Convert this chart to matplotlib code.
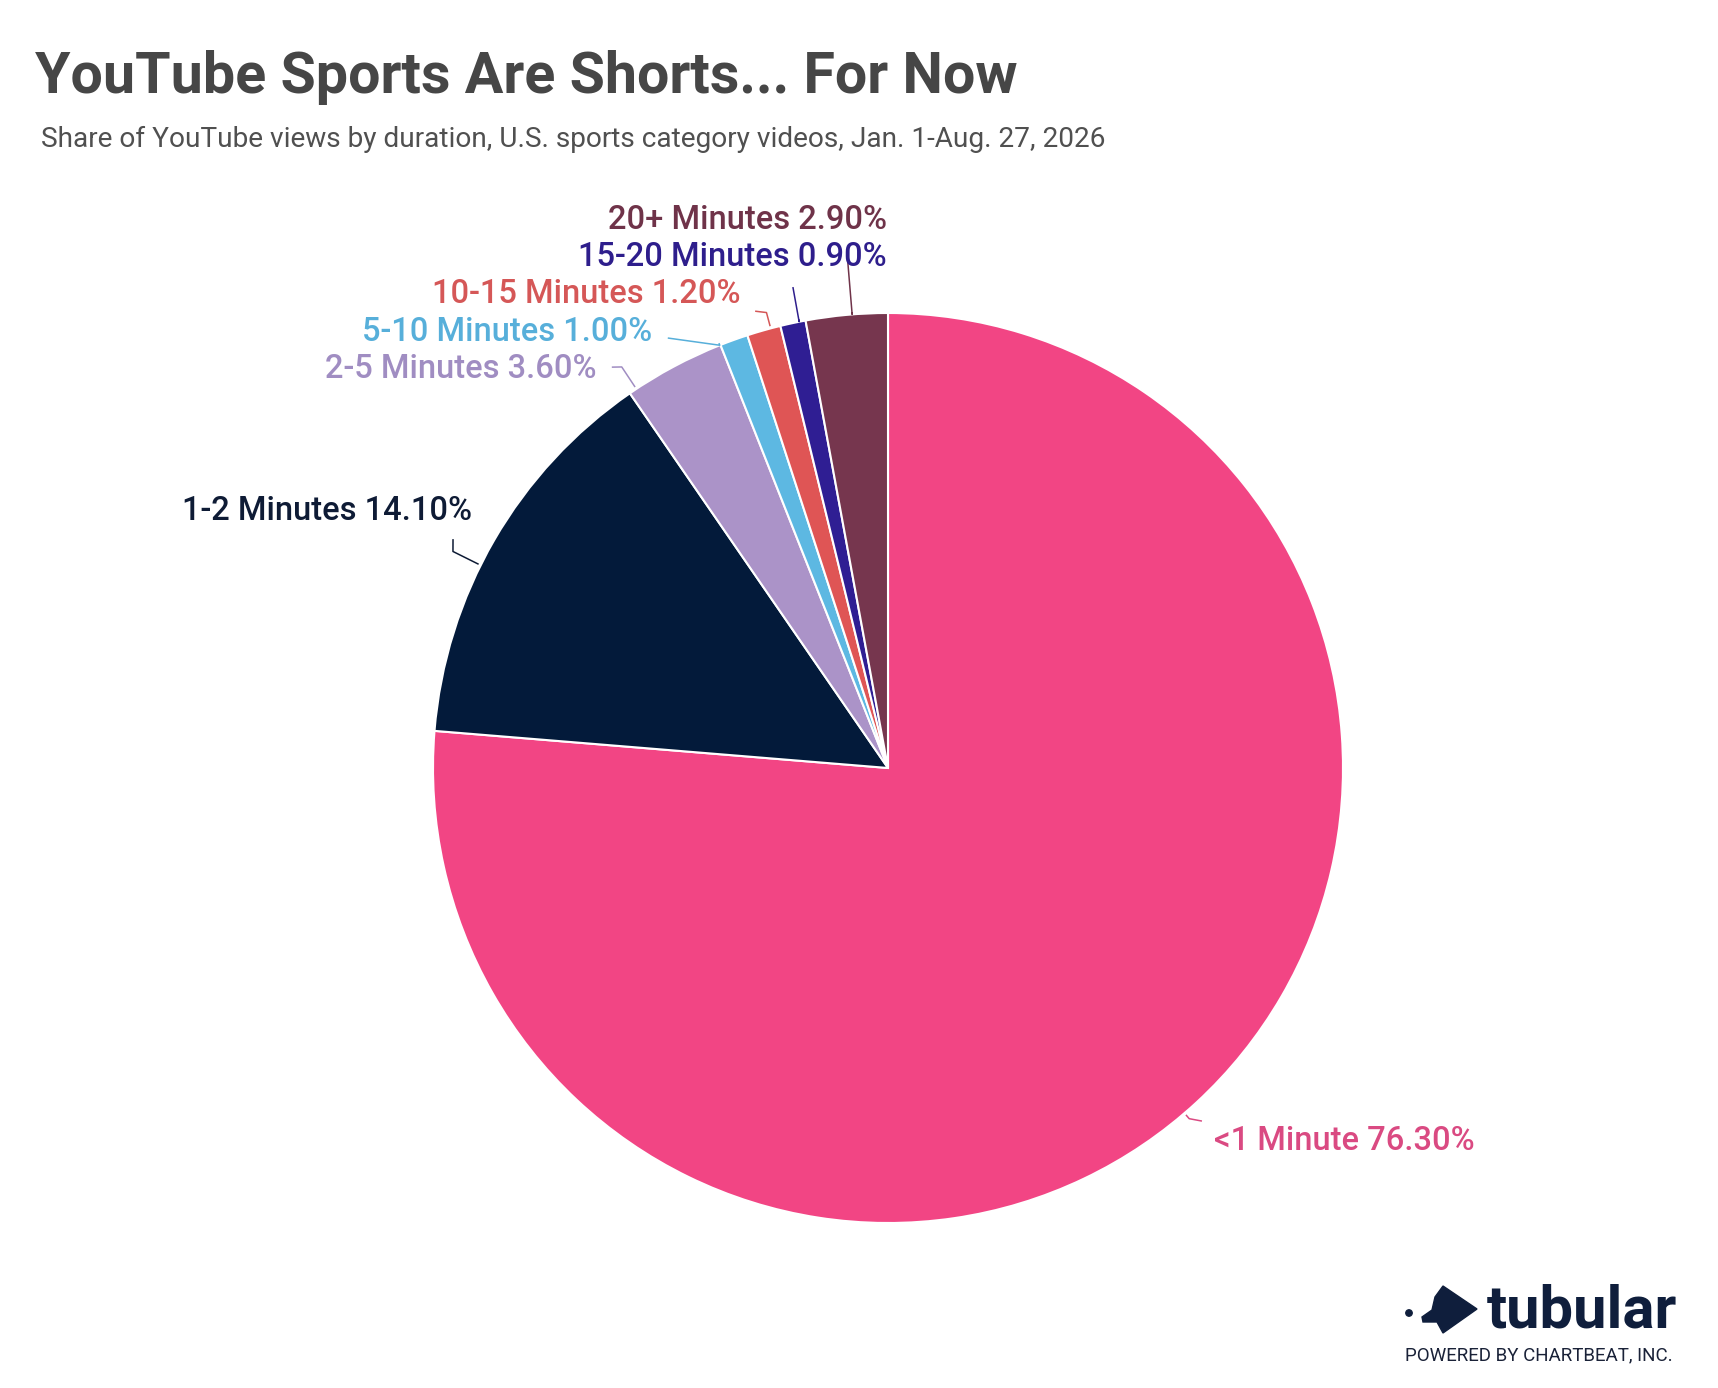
import numpy as np
import matplotlib.pyplot as plt
from matplotlib.patches import Polygon, Circle

plt.rcParams['font.family'] = ['Roboto', 'DejaVu Sans']

# data
categories = ['<1 Minute', '1-2 Minutes', '2-5 Minutes', '5-10 Minutes',
              '10-15 Minutes', '15-20 Minutes', '20+ Minutes']
shares = [76.3, 14.1, 3.6, 1.0, 1.2, 0.9, 2.9]
slice_colors = ['#F24584', '#031A3A', '#AB93C8', '#5DB8E2', '#DF5555', '#2F1E93', '#76364E']
label_colors = ['#DA4A82', '#0E1B35', '#A08DC2', '#57AFDA', '#D55757', '#2E1E8C', '#6F3349']

title = 'YouTube Sports Are Shorts... For Now'
subtitle = 'Share of YouTube views by duration, U.S. sports category videos, Jan. 1-Aug. 27, 2026'

# label layout (pie data units, radius = 1)
label_xy = [(0.716, -0.840), (-0.914, 0.545), (-0.640, 0.857), (-0.519, 0.938),
            (-0.325, 1.022), (-0.002, 1.103), (-0.002, 1.185)]
label_ha = ['left', 'right', 'right', 'right', 'right', 'right', 'right']
leader_nudge = [-2.0, 3.6, 5.5, 1.9, -0.9, -0.8, -0.7]   # degrees, math direction
leader_elbow = [1.016, 1.068, 1.058, 1.0, 1.036, 1.0, 1.0]
leader_end = [(0.690, -0.776), (-0.956, 0.503), (-0.607, 0.881), (-0.484, 0.945),
              (-0.292, 1.004), (-0.209, 1.057), (-0.090, 1.132)]

W, H = 1718, 1388
fig = plt.figure(figsize=(W / 100, H / 100), dpi=100)
fig.patch.set_facecolor('white')

# overlay for the logo, pixel coords
lax = fig.add_axes([0, 0, 1, 1])
lax.set_xlim(0, W)
lax.set_ylim(H, 0)
lax.axis('off')

cx, cy, R = 888, 768, 455
ax = fig.add_axes([(cx - R) / W, (H - cy - R) / H, 2 * R / W, 2 * R / H])
wedges, _ = ax.pie(shares, colors=slice_colors, startangle=90, counterclock=False,
                   radius=1, wedgeprops=dict(edgecolor='white', linewidth=1.5))
ax.set_xlim(-1, 1)
ax.set_ylim(-1, 1)
ax.set_aspect('equal')
ax.axis('off')

for i, w in enumerate(wedges):
    mid = np.radians((w.theta1 + w.theta2) / 2 + leader_nudge[i])
    p0 = (1.005 * np.cos(mid), 1.005 * np.sin(mid))
    p1 = (leader_elbow[i] * np.cos(mid), leader_elbow[i] * np.sin(mid))
    p2 = leader_end[i]
    ax.plot([p0[0], p1[0], p2[0]], [p0[1], p1[1], p2[1]], color=label_colors[i],
            lw=1.1, solid_capstyle='butt', clip_on=False)
    ax.text(label_xy[i][0], label_xy[i][1], f'{categories[i]} {shares[i]:.2f}%',
            ha=label_ha[i], va='baseline', fontsize=23.5, fontweight='medium',
            color=label_colors[i], clip_on=False)

fig.text(35 / W, 1 - 93 / H, title, fontsize=41.3, fontweight='bold',
         color='#464646', va='baseline', ha='left')
fig.text(41 / W, 1 - 147 / H, subtitle, fontsize=20.2, color='#505050',
         va='baseline', ha='left')

# tubular logo
navy = '#0F1E3C'
lax.add_patch(Polygon([(1422, 1317), (1432, 1310), (1435, 1297), (1443, 1286),
                       (1477, 1309), (1443, 1333), (1437, 1322), (1423, 1322)],
                      closed=True, color=navy))
lax.add_patch(Circle((1409, 1313), 3.2, color=navy))
lax.text(1487, 1327, 'tubular', fontsize=43, fontweight='bold', color=navy,
         va='baseline', ha='left')
lax.text(1405, 1360, 'POWERED BY CHARTBEAT, INC.', fontsize=13.5, color='#1A2238',
         va='baseline', ha='left')

fig.savefig('out.png', dpi=100)
